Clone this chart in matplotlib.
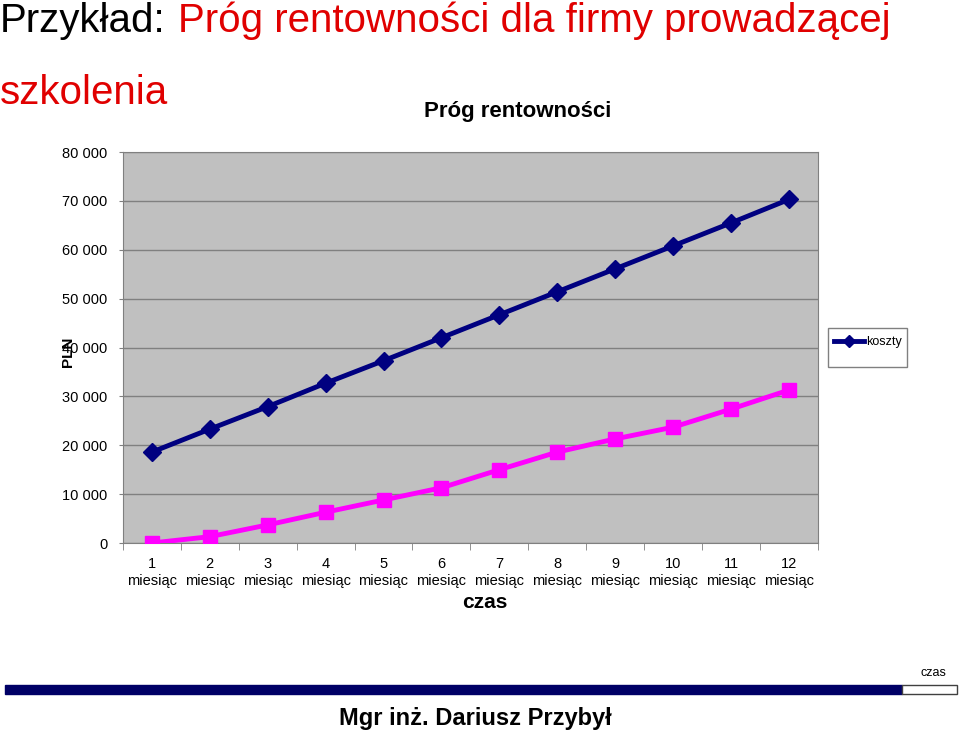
import matplotlib.pyplot as plt
from matplotlib.patches import Rectangle

# dane
miesiace = ['1\nmiesiąc', '2\nmiesiąc', '3\nmiesiąc', '4\nmiesiąc', '5\nmiesiąc', '6\nmiesiąc',
            '7\nmiesiąc', '8\nmiesiąc', '9\nmiesiąc', '10\nmiesiąc', '11\nmiesiąc', '12\nmiesiąc']
koszty = [18600, 23300, 27900, 32700, 37300, 42000, 46700, 51400, 56100, 60800, 65500, 70300]
przychody = [0, 1300, 3700, 6300, 8800, 11300, 15000, 18600, 21300, 23700, 27400, 31300]
y_ticks = [0, 10000, 20000, 30000, 40000, 50000, 60000, 70000, 80000]

plt.rcParams['font.family'] = ['Liberation Sans', 'DejaVu Sans']

fig = plt.figure(figsize=(9.6, 7.33), dpi=100)
ax = fig.add_axes([0.128, 0.2592, 0.724, 0.5334])

x = list(range(len(miesiace)))
ax.plot(x, koszty, color='#000080', lw=3.5, marker='D', markersize=9, label='koszty', zorder=3)
ax.plot(x, przychody, color='#FF00FF', lw=3.5, marker='s', markersize=10, zorder=3)

ax.set_facecolor('#C0C0C0')
ax.set_xlim(-0.5, 11.5)
ax.set_ylim(0, 80000)
ax.set_yticks(y_ticks)
ax.set_yticklabels(['0' if v == 0 else f'{v // 1000} 000' for v in y_ticks], fontsize=10.5)
ax.yaxis.grid(True, color='#808080', lw=1)
ax.set_axisbelow(True)
for s in ax.spines.values():
    s.set_color('#808080')
ax.tick_params(axis='y', color='#808080', length=3, pad=8)

ax.set_xticks(x)
ax.set_xticklabels(miesiace, fontsize=10.5, linespacing=1.25)
ax.tick_params(axis='x', which='major', length=0, pad=10)
ax.set_xticks([i - 0.5 for i in range(13)], minor=True)
ax.tick_params(axis='x', which='minor', length=5, color='#808080')

ax.set_xlabel('czas', fontsize=15, fontweight='bold')
ax.xaxis.set_label_coords(0.521, -0.128)
# w oryginale PLN nachodzi na etykiete 40 000
ax.text(-0.079, 0.488, 'PLN', transform=ax.transAxes, rotation=90, fontsize=11,
        fontweight='bold', ha='center', va='center')
fig.text(0.539, 1 - 111 / 733, 'Próg rentowności', fontsize=16, fontweight='bold',
         ha='center', va='center')

# legenda
fig.add_artist(Rectangle((828 / 960, 1 - 367 / 733), 79 / 960, 39 / 733, facecolor='white',
                         edgecolor='#808080', lw=1, zorder=-1))
ax.legend(loc='center', bbox_to_anchor=(868 / 960, 1 - 342 / 733), bbox_transform=fig.transFigure,
          fontsize=9, frameon=False, handlelength=2.4, handletextpad=0.15, markerscale=0.7)

# naglowek slajdu
fig.text(0.0, 0.972, 'Przykład:', fontsize=29, va='center', ha='left')
fig.text(0.185, 0.972, 'Próg rentowności dla firmy prowadzącej', fontsize=29,
         color='#E00000', va='center', ha='left')
fig.text(0.0, 0.873, 'szkolenia', fontsize=29, color='#E00000', va='center', ha='left')

# pasek na dole
fig.add_artist(Rectangle((5 / 960, 1 - 694 / 733), 897 / 960, 9 / 733, color='#000066'))
fig.add_artist(Rectangle((902 / 960, 1 - 694 / 733), 55 / 960, 9 / 733, facecolor='white',
                         edgecolor='#404040', lw=1))
fig.text(0.972, 1 - 673 / 733, 'czas', fontsize=9, ha='center', va='center')
fig.text(0.495, 1 - 719 / 733, 'Mgr inż. Dariusz Przybył', fontsize=17, fontweight='bold',
         ha='center', va='center')

fig.savefig('out.png', dpi=100)
